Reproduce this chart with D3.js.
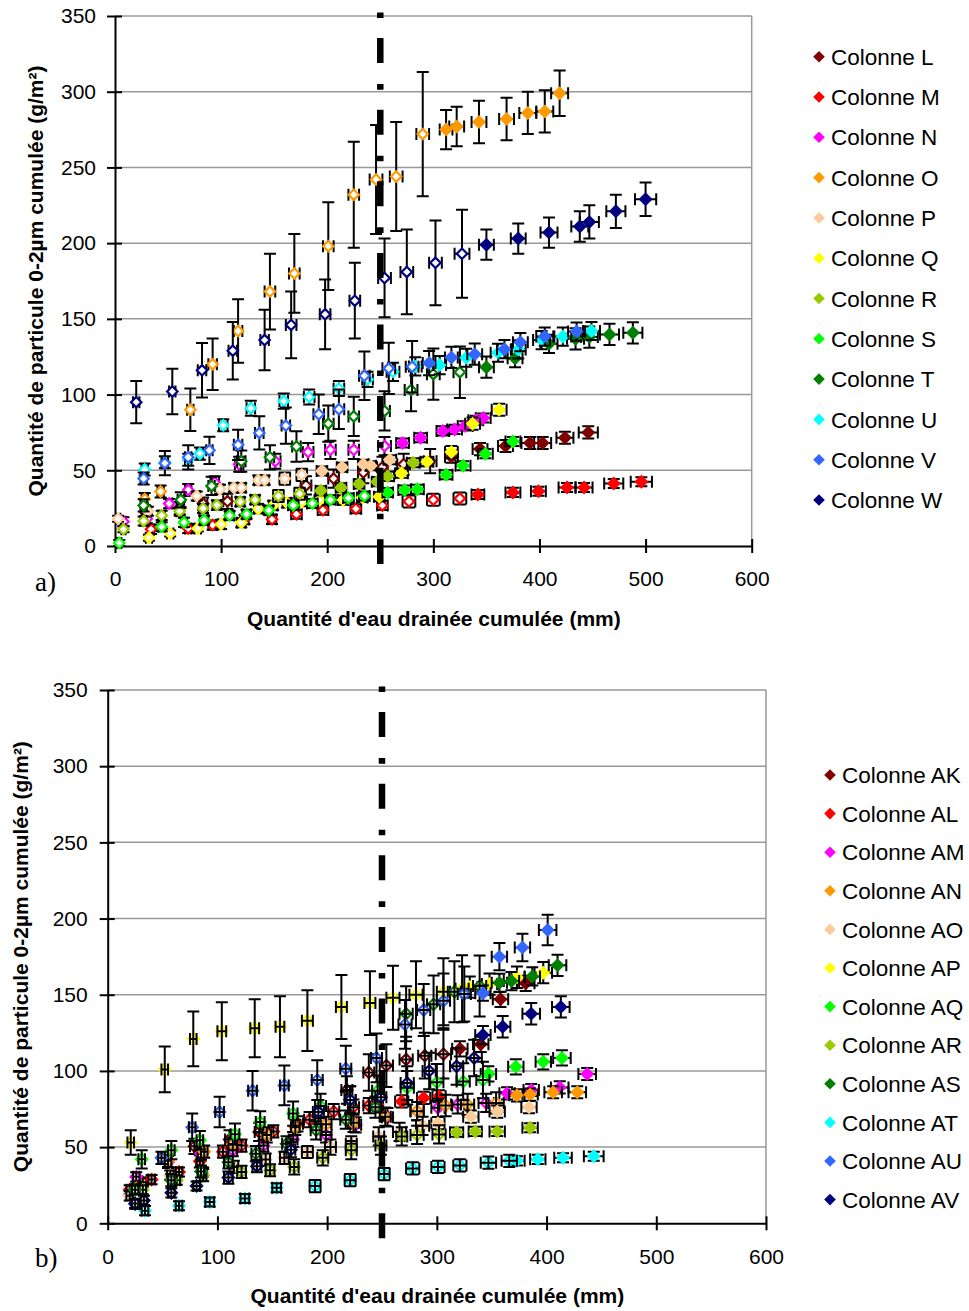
<!DOCTYPE html>
<html>
<head>
<meta charset="utf-8">
<script src="https://cdn.jsdelivr.net/npm/d3@7"></script>
<style>
body { margin: 0; background: #fff; }
</style>
</head>
<body>
<div id="chart"></div>
<script>
// axes
var xTicks = [0, 100, 200, 300, 400, 500, 600];
var yTicks = [0, 50, 100, 150, 200, 250, 300, 350];
var limit = 250; // trait mixte vertical

var paletteA = ["#800000", "#FF0000", "#FF00FF", "#FF9900", "#FFCC99", "#FFFF00",
                "#99CC00", "#00FF00", "#008000", "#00FFFF", "#3366FF", "#000080"];
var paletteB = ["#800000", "#FF0000", "#FF00FF", "#FF9900", "#FFCC99", "#FFFF00",
                "#00FF00", "#99CC00", "#008000", "#00FFFF", "#3366FF", "#000080"];

// ---- a) colonnes L..W  (x = eau drainée mm, y = particules g/m2, ex/ey = barres d'erreur, open = nb de points vides)
var L_x = [29, 61, 83, 106, 180, 206, 234, 252, 272, 297, 317, 344, 368, 391, 403, 424, 446];
var L_y = [22, 25, 28, 29.5, 40, 44.5, 48.5, 52, 54, 56, 59, 64, 66, 68, 68, 71.5, 75];
var L_ey = [3, 4, 4, 5, 6, 6, 7, 7, 7, 8, 4, 4, 4, 4, 4, 4, 4];
var L_ex = [3, 3, 4, 4, 5, 5, 5, 5, 6, 6, 6, 7, 7, 8, 8, 8, 9];
var L_open = 10;

var M_x = [34, 69, 92, 122, 148, 171, 196, 227, 252, 277, 300, 325, 342, 375, 399, 426, 442, 470, 496];
var M_y = [11, 11.6, 13.8, 17.5, 17.6, 21, 23.7, 24.6, 26.8, 29.4, 30.5, 31.4, 34, 35.4, 36.2, 38.6, 38.6, 41.3, 42.4];
var M_ey = [3, 3, 3, 3, 3, 3, 3, 3, 3, 4, 4, 4, 3, 3, 3, 3, 3, 3, 3];
var M_ex = [3, 3, 4, 4, 4, 5, 5, 5, 5, 6, 6, 6, 6, 7, 7, 8, 8, 9, 10];
var M_open = 12;

var N_x = [8, 30, 51, 69, 94, 117, 151, 182, 203, 225, 254, 271, 288, 309, 320, 330, 340, 347];
var N_y = [16, 18, 28, 37, 42, 54, 56, 62, 63.5, 63.5, 66, 68, 71.5, 76, 77, 79.3, 83, 84.5];
var N_ey = [3, 3, 3, 4, 4, 5, 5, 6, 6, 6, 6, 3, 3, 3, 3, 3, 3, 3];
var N_ex = [2, 3, 3, 3, 4, 4, 5, 5, 5, 5, 6, 6, 6, 6, 7, 7, 7, 7];
var N_open = 11;

var O_x = [28, 43, 71, 92, 116, 146, 169, 201, 225, 246, 265, 290, 312, 322, 343, 369, 389, 405, 419];
var O_y = [31, 36, 90, 120, 142, 168, 180, 198, 232, 242, 244, 272, 275, 277, 280, 282, 286, 287, 299];
var O_ey = [4, 4, 14, 17, 21, 25, 26, 29, 35, 36, 36, 41, 13, 13, 14, 14, 14, 14, 15];
var O_ex = [3, 3, 3, 4, 4, 5, 5, 5, 5, 6, 6, 6, 6, 7, 7, 7, 8, 8, 8];
var O_open = 12;

var P_x = [3, 31, 77, 99, 112, 119, 135, 141, 160, 176, 195, 214, 234, 241, 259];
var P_y = [18, 23, 33, 37.5, 38.5, 38.5, 43.5, 43.5, 44.5, 47, 49.5, 52, 54, 53, 57];
var P_ey = [2, 3, 3, 3, 3, 3, 3, 3, 4, 4, 3, 3, 3, 3, 3];
var P_ex = [2, 3, 3, 3, 4, 4, 4, 4, 5, 5, 5, 5, 5, 5, 6];
var P_open = 10;

var Q_x = [32, 52, 78, 100, 119, 135, 149, 162, 176, 193, 215, 233, 249, 270, 294, 317, 337, 362];
var Q_y = [5.5, 8.3, 11.6, 14.3, 15.4, 24.6, 26.8, 28.5, 29.2, 30.3, 30.3, 32, 32.5, 48, 55.6, 62, 80.8, 90];
var Q_ey = [2, 2, 2, 3, 3, 3, 3, 3, 3, 3, 3, 3, 3, 3, 3, 4, 4, 4];
var Q_ex = [3, 3, 3, 3, 4, 4, 4, 4, 5, 5, 5, 5, 5, 6, 6, 6, 7, 7];
var Q_open = 12;

var R_x = [8, 27, 44, 61, 83, 96, 118, 132, 154, 174, 194, 213, 230, 247, 257, 281];
var R_y = [11, 16.5, 20.2, 23, 24.8, 27, 29.2, 30.5, 33, 34.5, 36.5, 38.5, 41, 42.5, 46, 55];
var R_ey = [2, 3, 3, 3, 3, 3, 3, 3, 4, 4, 3, 3, 3, 3, 3, 3];
var R_ex = [2, 3, 3, 3, 4, 4, 4, 4, 5, 5, 5, 5, 5, 5, 6, 6];
var R_open = 10;

var S_x = [4, 44, 65, 84, 108, 124, 145, 168, 186, 203, 220, 235, 257, 273, 285, 312, 328, 349, 375];
var S_y = [2, 12.7, 15.6, 17, 20.1, 21, 23.6, 26.9, 28.1, 30.5, 31.7, 33, 35.3, 37, 37.5, 47, 53, 61, 69];
var S_ey = [2, 3, 3, 3, 3, 3, 3, 3, 3, 3, 3, 3, 3, 3, 3, 3, 3, 3, 3];
var S_ex = [2, 3, 3, 4, 4, 4, 4, 5, 5, 5, 5, 5, 5, 6, 6, 6, 7, 7, 7];
var S_open = 12;

var T_x = [27, 62, 91, 119, 146, 171, 201, 225, 254, 279, 300, 325, 350, 377, 409, 434, 447, 466, 488];
var T_y = [26.8, 30.5, 39.7, 56, 58.6, 65.7, 80.8, 85.6, 89.2, 103, 113.5, 114.8, 118.1, 124, 133.5, 136.8, 138, 139.7, 140.8];
var T_ey = [4, 5, 6, 7, 8, 10, 12, 13, 13, 14, 17, 17, 7, 6, 6, 7, 7, 7, 7];
var T_ex = [3, 3, 3, 4, 4, 4, 5, 5, 5, 6, 6, 6, 7, 7, 8, 8, 8, 9, 9];
var T_open = 12;

var U_x = [28, 47, 69, 80, 102, 128, 159, 183, 211, 238, 262, 283, 306, 331, 361, 380, 402, 422, 449];
var U_y = [50.5, 55.3, 57, 61, 79.7, 91, 95.7, 98.4, 104, 110, 115, 118.6, 119.5, 124.3, 127.6, 129.8, 136, 138.3, 142];
var U_ey = [4, 4, 4, 4, 4, 5, 5, 5, 5, 5, 6, 6, 6, 6, 6, 6, 6, 6, 6];
var U_ex = [3, 3, 3, 3, 4, 4, 4, 5, 5, 5, 6, 6, 6, 6, 7, 7, 8, 8, 8];
var U_open = 12;

var V_x = [27, 47, 69, 89, 116, 136, 161, 192, 211, 235, 258, 280, 296, 317, 339, 367, 382, 405, 435];
var V_y = [44.6, 54.7, 58.6, 63.2, 66.8, 74.7, 79.5, 87, 90.3, 112.4, 117.3, 118.4, 120.8, 124.5, 126.7, 130, 134.6, 138.3, 141.6];
var V_ey = [4, 8, 8, 9, 10, 11, 12, 13, 13, 16, 17, 17, 8, 7, 7, 6, 6, 6, 6];
var V_ex = [3, 3, 3, 3, 4, 4, 4, 5, 5, 5, 6, 6, 6, 6, 7, 7, 7, 8, 8];
var V_open = 12;

var W_x = [20, 54, 82, 111, 141, 166, 198, 226, 254, 275, 302, 327, 350, 380, 409, 438, 447, 472, 500];
var W_y = [95, 102, 116, 129, 136, 146, 153, 162, 177, 181, 187, 193, 199, 203, 207, 211, 214, 221, 229];
var W_ey = [14, 15, 18, 19, 20, 22, 23, 25, 26, 28, 28, 29, 10, 10, 10, 10, 11, 11, 11];
var W_ex = [3, 3, 4, 4, 4, 5, 5, 5, 6, 6, 6, 7, 7, 7, 8, 8, 9, 9, 10];
var W_open = 12;

// ---- b) colonnes AK..AV
var AK_x = [32, 79, 111, 138, 218, 238, 254, 272, 289, 306, 321, 340, 358, 381];
var AK_y = [27, 50.5, 55, 60, 87.5, 99, 103.5, 107.5, 110, 111, 114.5, 117.5, 147, 157.5];
var AK_ey = [3, 5, 6, 6, 9, 12, 14, 15, 15, 16, 5, 5, 5, 5];
var AK_ex = [3, 4, 4, 4, 5, 5, 6, 6, 6, 7, 7, 7, 7, 8];
var AK_open = 10;

var AL_x = [20, 40, 65, 84, 105, 122, 151, 173, 184, 206, 224, 238, 246, 268, 288, 302];
var AL_y = [22, 28.7, 33.7, 40.7, 47, 51, 60.3, 65.3, 68, 73.3, 76.2, 77.3, 77.7, 80, 82.3, 83.4];
var AL_ey = [3, 3, 3, 4, 4, 4, 4, 5, 5, 5, 5, 5, 4, 4, 4, 4];
var AL_ex = [3, 3, 3, 3, 4, 4, 4, 5, 5, 5, 5, 5, 5, 6, 6, 6];
var AL_open = 12;

var AM_x = [26, 55, 85, 114, 142, 169, 199, 226, 255, 282, 301, 319, 345, 364, 386, 412, 437];
var AM_y = [30.5, 40.3, 45.7, 48, 51, 55, 58, 64.6, 69.6, 73.6, 75.8, 78, 79, 85.3, 87.5, 89.2, 98];
var AM_ey = [3, 4, 4, 4, 4, 5, 5, 5, 6, 6, 6, 6, 6, 4, 4, 4, 4];
var AM_ex = [3, 3, 3, 4, 4, 4, 5, 5, 5, 6, 6, 6, 7, 7, 7, 8, 8];
var AM_open = 13;

var AN_x = [26, 55, 88, 114, 145, 171, 199, 224, 253, 282, 308, 328, 354, 373, 385, 406, 428];
var AN_y = [23, 41, 47, 52, 58, 63, 65, 66, 70, 73.6, 77.3, 78, 79, 84, 84.5, 86, 86];
var AN_ey = [3, 4, 4, 4, 5, 5, 5, 6, 6, 6, 7, 7, 7, 4, 4, 4, 4];
var AN_ex = [3, 3, 3, 4, 4, 4, 5, 5, 5, 6, 6, 6, 7, 7, 7, 8, 8];
var AN_open = 13;

var AO_x = [20, 57, 87, 115, 144, 161, 182, 203, 222, 247, 266, 287, 301, 331, 355, 384];
var AO_y = [18, 31.6, 33.7, 37, 41.8, 43, 46.8, 50, 52.2, 57, 60, 64, 65.7, 70, 73.3, 76.2];
var AO_ey = [3, 3, 3, 4, 4, 4, 4, 5, 5, 6, 6, 6, 4, 4, 4, 4];
var AO_ex = [3, 3, 3, 4, 4, 4, 5, 5, 5, 5, 6, 6, 6, 7, 7, 7];
var AO_open = 12;

var AP_x = [21, 52, 78, 104, 134, 157, 182, 213, 239, 260, 281, 306, 323, 330, 348, 373, 397];
var AP_y = [53, 101, 121, 126, 128, 129, 133, 142, 144.5, 148, 150, 152, 154, 155, 157, 161.5, 164.5];
var AP_ey = [8, 15, 18, 19, 19, 20, 20, 21, 21, 21, 22, 22, 22, 7, 7, 7, 7];
var AP_ex = [3, 3, 3, 4, 4, 4, 5, 5, 5, 6, 6, 6, 6, 7, 7, 7, 8];
var AP_open = 13;

var AQ_x = [31, 58, 84, 116, 139, 169, 194, 221, 246, 273, 300, 324, 342, 347, 372, 397, 414];
var AQ_y = [42, 48, 54.5, 58.5, 66.5, 72, 77, 81, 87, 89, 92.5, 93, 94, 98, 102.7, 106, 108.5];
var AQ_ey = [6, 6, 6, 7, 7, 8, 8, 9, 10, 11, 12, 12, 12, 5, 5, 5, 5];
var AQ_ex = [3, 3, 3, 4, 4, 4, 5, 5, 5, 6, 6, 6, 6, 7, 7, 7, 8];
var AQ_open = 13;

var AR_x = [32, 63, 87, 122, 148, 170, 196, 222, 249, 268, 282, 302, 318, 335, 355, 385];
var AR_y = [22, 28.3, 31.6, 33.7, 34.8, 37, 43, 48, 51, 57, 58, 58.3, 59.8, 60.3, 60.3, 62.7];
var AR_ey = [3, 3, 4, 4, 4, 5, 5, 6, 6, 6, 6, 6, 3, 3, 3, 3];
var AR_ex = [3, 3, 3, 4, 4, 4, 5, 5, 5, 5, 6, 6, 6, 6, 7, 7];
var AR_open = 12;

var AS_x = [25, 58, 85, 110, 135, 163, 190, 217, 244, 272, 297, 316, 339, 357, 368, 387, 410];
var AS_y = [22, 28.3, 34, 40, 45.7, 52.2, 61, 68, 76.2, 137.5, 143.7, 152, 155.7, 157.8, 159, 162, 169.3];
var AS_ey = [3, 4, 4, 4, 5, 5, 6, 6, 7, 18, 19, 20, 20, 6, 6, 6, 7];
var AS_ex = [3, 3, 3, 4, 4, 4, 5, 5, 5, 6, 6, 6, 6, 7, 7, 7, 8];
var AS_open = 13;

var AT_x = [34, 65, 93, 125, 154, 189, 221, 252, 278, 301, 321, 347, 366, 373, 392, 415, 443];
var AT_y = [8.3, 11.5, 14, 16.3, 23.3, 24.4, 28.3, 32.3, 36, 37, 38, 39.8, 41, 41, 42, 43, 44];
var AT_ey = [3, 3, 3, 3, 3, 4, 4, 4, 4, 4, 4, 4, 4, 3, 3, 3, 3];
var AT_ex = [3, 3, 4, 4, 4, 5, 5, 5, 6, 6, 6, 7, 7, 7, 7, 8, 9];
var AT_open = 13;

var AU_x = [25, 49, 77, 102, 132, 161, 191, 217, 245, 271, 288, 306, 325, 342, 357, 378, 401];
var AU_y = [12.6, 43, 63, 73, 87, 90.5, 94, 101.5, 108.5, 130.5, 140, 146, 150.5, 151, 175, 181, 192.5];
var AU_ey = [3, 4, 9, 10, 13, 13, 13, 15, 16, 16, 17, 18, 18, 5, 9, 9, 10];
var AU_ex = [3, 3, 3, 4, 4, 4, 5, 5, 5, 6, 6, 6, 6, 7, 7, 7, 8];
var AU_open = 13;

var AV_x = [25, 33, 58, 81, 110, 136, 167, 192, 221, 249, 273, 293, 318, 334, 342, 360, 386, 413];
var AV_y = [13, 15, 20, 24.5, 30, 37.5, 48.3, 73, 81, 82.7, 92, 100, 103, 108.5, 123.5, 129, 137.5, 142];
var AV_ey = [3, 3, 3, 3, 4, 4, 5, 8, 9, 10, 11, 12, 12, 12, 6, 7, 7, 7];
var AV_ex = [3, 3, 3, 3, 4, 4, 4, 5, 5, 5, 6, 6, 6, 7, 7, 7, 8, 8];
var AV_open = 14;

function serie(name, x, y, ey, ex, open) {
    return {name: name, x: x, y: y, ey: ey, ex: ex, open: open};
}

var seriesA = [
    serie("Colonne L", L_x, L_y, L_ey, L_ex, L_open),
    serie("Colonne M", M_x, M_y, M_ey, M_ex, M_open),
    serie("Colonne N", N_x, N_y, N_ey, N_ex, N_open),
    serie("Colonne O", O_x, O_y, O_ey, O_ex, O_open),
    serie("Colonne P", P_x, P_y, P_ey, P_ex, P_open),
    serie("Colonne Q", Q_x, Q_y, Q_ey, Q_ex, Q_open),
    serie("Colonne R", R_x, R_y, R_ey, R_ex, R_open),
    serie("Colonne S", S_x, S_y, S_ey, S_ex, S_open),
    serie("Colonne T", T_x, T_y, T_ey, T_ex, T_open),
    serie("Colonne U", U_x, U_y, U_ey, U_ex, U_open),
    serie("Colonne V", V_x, V_y, V_ey, V_ex, V_open),
    serie("Colonne W", W_x, W_y, W_ey, W_ex, W_open)
];

var seriesB = [
    serie("Colonne AK", AK_x, AK_y, AK_ey, AK_ex, AK_open),
    serie("Colonne AL", AL_x, AL_y, AL_ey, AL_ex, AL_open),
    serie("Colonne AM", AM_x, AM_y, AM_ey, AM_ex, AM_open),
    serie("Colonne AN", AN_x, AN_y, AN_ey, AN_ex, AN_open),
    serie("Colonne AO", AO_x, AO_y, AO_ey, AO_ex, AO_open),
    serie("Colonne AP", AP_x, AP_y, AP_ey, AP_ex, AP_open),
    serie("Colonne AQ", AQ_x, AQ_y, AQ_ey, AQ_ex, AQ_open),
    serie("Colonne AR", AR_x, AR_y, AR_ey, AR_ex, AR_open),
    serie("Colonne AS", AS_x, AS_y, AS_ey, AS_ex, AS_open),
    serie("Colonne AT", AT_x, AT_y, AT_ey, AT_ex, AT_open),
    serie("Colonne AU", AU_x, AU_y, AU_ey, AU_ex, AU_open),
    serie("Colonne AV", AV_x, AV_y, AV_ey, AV_ex, AV_open)
];

var svg = d3.select("#chart")
    .append("svg")
    .attr("width", 969)
    .attr("height", 1311)
    .style("display", "block");

svg.append("rect").attr("width", 969).attr("height", 1311).attr("fill", "white");

var sans = "Arial, 'Liberation Sans', sans-serif";

// losange (carré tourné de 45°)
var diamond = {
    draw: function(ctx, size) {
        var r = Math.sqrt(size / 2);
        ctx.moveTo(0, -r);
        ctx.lineTo(r, 0);
        ctx.lineTo(0, r);
        ctx.lineTo(-r, 0);
        ctx.closePath();
    }
};
function diamondPath(r) {
    return d3.symbol().type(diamond).size(2 * r * r)();
}

function drawPanel(p, series, palette) {
    var x = d3.scaleLinear().domain([0, 600]).range([p.left, p.right]);
    var y = d3.scaleLinear().domain([0, 350]).range([p.bottom, p.top]);
    var g = svg.append("g");

    // grille horizontale
    g.selectAll(".grid").data(yTicks.slice(1)).enter().append("line")
        .attr("x1", p.left).attr("x2", p.right)
        .attr("y1", function(d) { return y(d); })
        .attr("y2", function(d) { return y(d); })
        .attr("stroke", "#999").attr("stroke-width", 1.5);
    g.append("line") // bord droit
        .attr("x1", p.right).attr("x2", p.right)
        .attr("y1", p.top).attr("y2", p.bottom)
        .attr("stroke", "#999").attr("stroke-width", 1.5);

    // axe y
    var ya = g.append("g")
        .attr("transform", "translate(" + p.left + ",0)")
        .call(d3.axisLeft(y).tickValues(yTicks).tickSizeInner(8).tickSizeOuter(0).tickPadding(p.yPad));
    ya.selectAll(".tick line").attr("x1", 7);
    // axe x
    var xa = g.append("g")
        .attr("transform", "translate(0," + p.bottom + ")")
        .call(d3.axisBottom(x).tickValues(xTicks).tickSizeInner(7).tickSizeOuter(0).tickPadding(p.xPad));
    xa.selectAll(".tick line").attr("y1", -7);

    [ya, xa].forEach(function(a) {
        a.attr("font-family", sans).attr("font-size", 21);
        a.select(".domain").attr("stroke", "black").attr("stroke-width", 2);
        a.selectAll(".tick line").attr("stroke", "black").attr("stroke-width", 2);
        a.selectAll(".tick text").attr("fill", "black");
    });

    function barPath(d) {
        var cx = x(d.x), cy = y(d.y);
        var y1 = y(d.y + d.ey), y2 = y(d.y - d.ey);
        var x1 = x(d.x - d.ex), x2 = x(d.x + d.ex);
        return "M" + cx + "," + y1 + "V" + y2 +
            "M" + (cx - 6) + "," + y1 + "H" + (cx + 6) +
            "M" + (cx - 6) + "," + y2 + "H" + (cx + 6) +
            "M" + x1 + "," + cy + "H" + x2 +
            "M" + x1 + "," + (cy - 6) + "V" + (cy + 6) +
            "M" + x2 + "," + (cy - 6) + "V" + (cy + 6);
    }

    series.forEach(function(s, k) {
        var pts = s.x.map(function(v, i) {
            return {x: v, y: s.y[i], ey: s.ey[i], ex: s.ex[i], open: i < s.open};
        });
        var sg = g.append("g");
        var barsBehind = pts.filter(function(d) { return !d.open || !p.crossOnTop; });
        var barsFront = pts.filter(function(d) { return d.open && p.crossOnTop; });

        sg.selectAll(".eb").data(barsBehind).enter().append("path")
            .attr("d", barPath)
            .attr("fill", "none").attr("stroke", "black").attr("stroke-width", 2);

        sg.selectAll(".pt").data(pts).enter().append("path")
            .attr("d", function(d) { return diamondPath(d.open ? p.rOpen : p.rFill); })
            .attr("transform", function(d) { return "translate(" + x(d.x) + "," + y(d.y) + ")"; })
            .attr("fill", function(d) { return d.open ? "white" : palette[k]; })
            .attr("stroke", function(d) { return d.open ? palette[k] : "none"; })
            .attr("stroke-width", 2.2);

        sg.selectAll(".eb2").data(barsFront).enter().append("path")
            .attr("d", barPath)
            .attr("fill", "none").attr("stroke", "black").attr("stroke-width", 2);
    });

    // trait mixte à 250 mm
    g.append("line")
        .attr("x1", x(limit)).attr("x2", x(limit))
        .attr("y1", y(350) - 3.5).attr("y2", y(0) + 18)
        .attr("stroke", "black").attr("stroke-width", 6.5)
        .attr("stroke-dasharray", "5.6,20,25,21");

    // légende
    series.forEach(function(s, k) {
        var ly = p.legY + k * p.legDy;
        g.append("path")
            .attr("d", diamondPath(5.8))
            .attr("transform", "translate(" + p.legX + "," + ly + ")")
            .attr("fill", palette[k]);
        g.append("text")
            .attr("x", p.legX + 12).attr("y", ly).attr("dy", "0.36em")
            .attr("font-family", sans).attr("font-size", 22.5)
            .attr("fill", "black")
            .text(s.name);
    });

    // titres
    g.append("text")
        .attr("transform", "translate(" + p.yTitleX + "," + ((p.top + p.bottom) / 2) + ") rotate(-90)")
        .attr("text-anchor", "middle")
        .attr("font-family", sans).attr("font-size", 21).attr("font-weight", "bold")
        .text("Quantité de particule 0-2µm cumulée (g/m²)");
    g.append("text")
        .attr("x", (p.left + p.right) / 2 + 0.5).attr("y", p.xTitleY)
        .attr("text-anchor", "middle")
        .attr("font-family", sans).attr("font-size", 21).attr("font-weight", "bold")
        .text("Quantité d'eau drainée cumulée (mm)");
    g.append("text")
        .attr("x", 35).attr("y", p.tagY)
        .attr("font-family", "'Liberation Serif', 'Times New Roman', serif")
        .attr("font-size", 27)
        .text(p.tag);
}

drawPanel({left: 115, right: 751.7, top: 16, bottom: 546, yPad: 11, xPad: 18,
           rOpen: 5.2, rFill: 7, crossOnTop: false,
           legX: 819, legY: 56.7, legDy: 40.3,
           yTitleX: 43, xTitleY: 626, tag: "a)", tagY: 591}, seriesA, paletteA);

drawPanel({left: 107.7, right: 766, top: 690, bottom: 1223.3, yPad: 12, xPad: 19,
           rOpen: 5.6, rFill: 7, crossOnTop: true,
           legX: 830, legY: 775, legDy: 38.6,
           yTitleX: 28, xTitleY: 1303, tag: "b)", tagY: 1267}, seriesB, paletteB);
</script>
</body>
</html>
